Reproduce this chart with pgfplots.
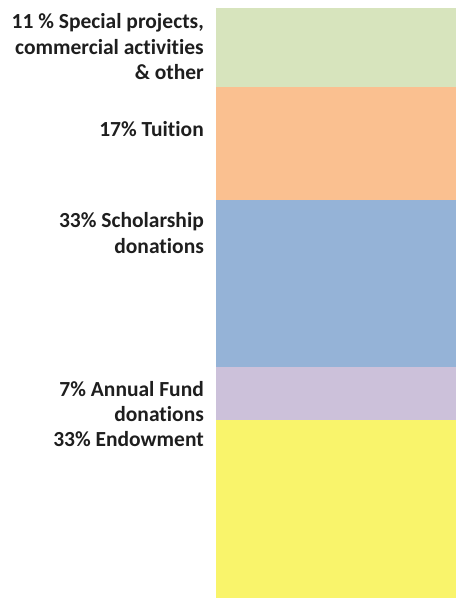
\documentclass[border=0pt]{standalone}
\usepackage{pgfplots}
\pgfplotsset{compat=1.18}
\usepackage{fontspec}
\setmainfont{Carlito}[Ligatures=NoCommon]
\definecolor{cgreen}{HTML}{D7E4BD}
\definecolor{corange}{HTML}{FAC090}
\definecolor{cblue}{HTML}{95B3D7}
\definecolor{cpurple}{HTML}{CCC1DA}
\definecolor{cyellow}{HTML}{F9F46B}
\definecolor{ctext}{HTML}{1E1E1E}
\begin{document}
\begin{tikzpicture}
\useasboundingbox (0,0) rectangle (456bp,598bp);
\begin{axis}[
  at={(216bp,0.3bp)}, anchor=south west,
  scale only axis, width=240bp, height=589.7bp,
  xmin=0, xmax=1, ymin=0, ymax=99.9,
  axis lines=none, ticks=none,
  ybar stacked, bar width=240bp,
  clip=false,
]
\addplot[fill=cyellow, draw=none] coordinates {(0.5,30.1)};
\addplot[fill=cpurple, draw=none] coordinates {(0.5,8.9)};
\addplot[fill=cblue, draw=none] coordinates {(0.5,28.3)};
\addplot[fill=corange, draw=none] coordinates {(0.5,19.2)};
\addplot[fill=cgreen, draw=none] coordinates {(0.5,13.4)};
\end{axis}
\begin{scope}[every node/.style={anchor=base east, inner sep=0pt, font=\fontsize{21.5bp}{25bp}\selectfont\bfseries, text=ctext}]
\node at (204bp,569bp) {11 \% Special projects,};
\node at (204bp,543.7bp) {commercial activities};
\node at (204bp,518bp) {\& other};
\node at (204bp,461.3bp) {17\% Tuition};
\node at (204bp,370bp) {33\% Scholarship};
\node at (204bp,344bp) {donations};
\node at (204bp,201.3bp) {7\% Annual Fund};
\node at (204bp,176.3bp) {donations};
\node at (204bp,151.3bp) {33\% Endowment};
\end{scope}
\end{tikzpicture}
\end{document}
